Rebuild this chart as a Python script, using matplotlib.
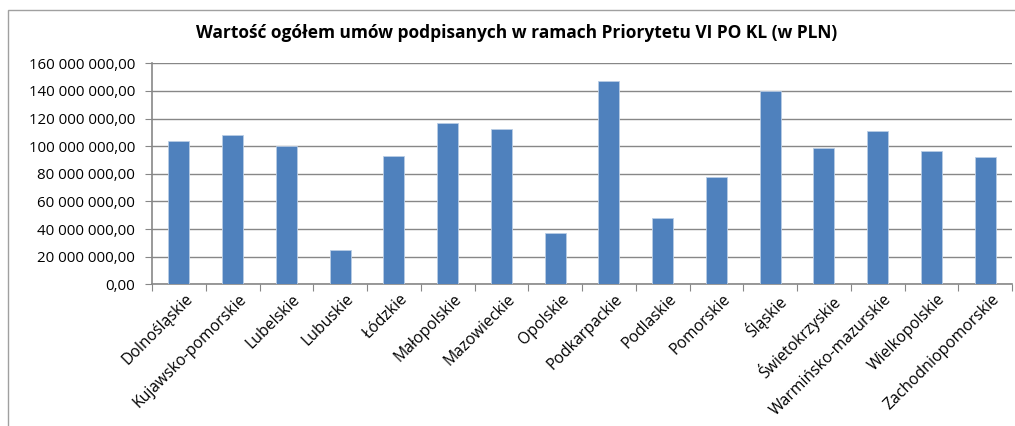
import matplotlib
matplotlib.use("Agg")
import matplotlib.pyplot as plt
from matplotlib.patches import Rectangle
from matplotlib.ticker import FuncFormatter, MultipleLocator

categories = ["Dolnośląskie", "Kujawsko-pomorskie", "Lubelskie", "Lubuskie", "Łódzkie",
              "Małopolskie", "Mazowieckie", "Opolskie", "Podkarpackie", "Podlaskie",
              "Pomorskie", "Śląskie", "Świetokrzyskie", "Warmińsko-mazurskie",
              "Wielkopolskie", "Zachodniopomorskie"]
values = [103.8e6, 107.9e6, 100.1e6, 24.6e6, 92.7e6, 116.6e6, 112.2e6, 37.1e6,
          147.4e6, 48.2e6, 77.9e6, 139.8e6, 98.5e6, 111.0e6, 96.8e6, 92.0e6]
title = "Wartość ogółem umów podpisanych w ramach Priorytetu VI PO KL (w PLN)"

plt.rcParams['font.family'] = ['Open Sans', 'DejaVu Sans']

W, H = 1015, 426
fig = plt.figure(figsize=(W/100, H/100), dpi=100)
ax = fig.add_axes([152/W, 1-284.3/H, (1012-152)/W, (284.3-63.3)/H])

fig.patches.append(Rectangle((8/W, -0.02), 1.1, 1-10/H+0.02, transform=fig.transFigure,
                             fill=False, edgecolor='#a0a0a0', linewidth=1))

x = list(range(len(categories)))
ax.bar(x, values, width=0.39, color='#4f81bd', edgecolor='#b9cde5', linewidth=0.6, zorder=3)
ax.set_xlim(-0.5, len(categories)-0.5)
ax.set_ylim(0, 160e6)
ax.yaxis.set_major_locator(MultipleLocator(20e6))

def fmt(v, pos):
    s = f"{v:,.2f}".replace(",", " ").replace(".", ",")
    return s
ax.yaxis.set_major_formatter(FuncFormatter(fmt))
ax.grid(axis='y', color='#878787', linewidth=1, zorder=0)
ax.set_axisbelow(True)

ax.set_xticks([i - 0.5 for i in range(len(categories)+1)])
ax.set_xticklabels([])
ax.set_xticks(x, minor=True)
ax.set_xticklabels(categories, minor=True, rotation=45, ha='right', va='top',
                   rotation_mode='anchor', fontsize=11.3)
ax.tick_params(axis='x', which='minor', length=0, pad=5)
ax.tick_params(axis='x', which='major', length=5, color='#878787', direction='out')
ax.tick_params(axis='y', length=5, color='#878787', labelsize=10.8, direction='out', pad=7)
for lbl in ax.get_xticklabels(minor=True):
    lbl.set_transform(lbl.get_transform() + matplotlib.transforms.ScaledTranslation(6/100, 0, fig.dpi_scale_trans))

for s in ['top', 'right']:
    ax.spines[s].set_visible(False)
for s in ['left', 'bottom']:
    ax.spines[s].set_color('#878787')
    ax.spines[s].set_linewidth(1.2)

fig.text(517/W, 1-33/H, title, ha='center', va='center', fontsize=12.5, fontweight='bold')

fig.savefig("out.png", dpi=100)
